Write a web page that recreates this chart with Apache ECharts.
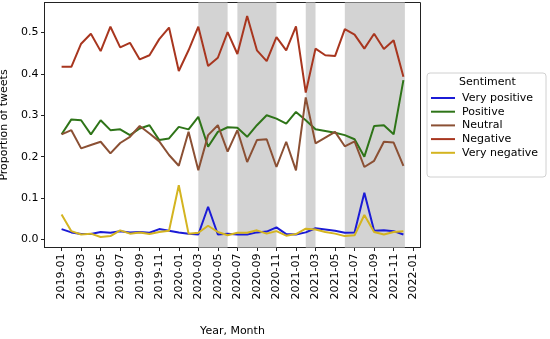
<!DOCTYPE html>
<html><head><meta charset="utf-8">
<script src="https://cdn.jsdelivr.net/npm/echarts@6/dist/echarts.min.js"></script>
<style>html,body{margin:0;padding:0;background:#fff}#c{width:550px;height:339px}</style>
</head><body><div id="c"></div>
<script>
const tickLabels = ['2019-01','2019-03','2019-05','2019-07','2019-09','2019-11','2020-01','2020-03','2020-05','2020-07','2020-09','2020-11','2021-01','2021-03','2021-05','2021-07','2021-09','2021-11','2022-01'];
const yTicks = [0, 0.1, 0.2, 0.3, 0.4, 0.5];
const seriesNames = ['Very positive','Positive','Neutral','Negative','Very negative'];
const veryPositive = [0.025,0.017,0.013,0.013,0.018,0.016,0.020,0.017,0.018,0.016,0.025,0.021,0.017,0.014,0.012,0.079,0.012,0.014,0.012,0.012,0.017,0.019,0.029,0.013,0.012,0.017,0.027,0.024,0.021,0.016,0.017,0.113,0.021,0.022,0.020,0.012];
const positive = [0.254,0.290,0.288,0.254,0.288,0.264,0.266,0.252,0.268,0.276,0.240,0.244,0.272,0.266,0.296,0.224,0.260,0.271,0.270,0.248,0.276,0.300,0.292,0.280,0.308,0.288,0.266,0.262,0.258,0.252,0.242,0.200,0.274,0.276,0.254,0.385];
const neutral = [0.254,0.264,0.220,0.228,0.236,0.208,0.233,0.248,0.274,0.256,0.237,0.204,0.178,0.260,0.167,0.252,0.276,0.212,0.264,0.187,0.240,0.242,0.175,0.236,0.167,0.343,0.232,0.246,0.260,0.225,0.237,0.175,0.190,0.236,0.234,0.178];
const negative = [0.417,0.417,0.473,0.497,0.455,0.514,0.464,0.475,0.435,0.445,0.484,0.512,0.407,0.457,0.514,0.419,0.439,0.501,0.448,0.540,0.457,0.431,0.489,0.457,0.515,0.355,0.461,0.445,0.443,0.508,0.495,0.461,0.497,0.460,0.481,0.393];
const veryNegative = [0.060,0.020,0.012,0.014,0.006,0.008,0.022,0.014,0.017,0.013,0.018,0.021,0.131,0.014,0.016,0.033,0.018,0.010,0.016,0.016,0.022,0.014,0.020,0.009,0.013,0.026,0.024,0.018,0.014,0.008,0.010,0.059,0.018,0.012,0.018,0.020];
// shaded periods as month indices (0 = 2019-01)
const shadedPeriods = [[14, 17], [18, 22], [25, 26], [29, 35.15]];

const colors = ['#1b1bd6', '#2e7418', '#8b5034', '#a8361f', '#d4b420'];
const allSeries = [veryPositive, positive, neutral, negative, veryNegative];
const FONT = 'DejaVu Sans';

const chart = echarts.init(document.getElementById('c'), null, {renderer: 'canvas'});
const series = [{
  type: 'line', name: '_shade', data: [], silent: true,
  markArea: {silent: true, itemStyle: {color: '#d3d3d3'},
    data: shadedPeriods.map(p => [{xAxis: p[0]}, {xAxis: p[1]}])}
}];
allSeries.forEach((arr, k) => {
  series.push({
    type: 'line', name: seriesNames[k], data: arr.map((v, i) => [i, v]),
    symbol: 'none', lineStyle: {width: 2, color: colors[k]}, itemStyle: {color: colors[k]},
    z: 3
  });
});

chart.setOption({
  animation: false,
  textStyle: {fontFamily: FONT},
  grid: {left: 44.5, right: 129.5, top: 2.5, bottom: 91.5, show: true, borderColor: '#222', borderWidth: 1,
    containLabel: false, outerBoundsMode: 'none'},
  xAxis: {
    type: 'value', min: -1.75, max: 36.75,
    name: 'Year, Month', nameLocation: 'middle', nameGap: 78,
    nameTextStyle: {color: '#000', fontSize: 11, fontFamily: FONT},
    axisLine: {show: true, onZero: false, lineStyle: {color: '#222'}},
    axisTick: {show: true, length: 3.5, lineStyle: {color: '#222'}, customValues: tickLabels.map((_, j) => j * 2)},
    axisLabel: {rotate: 90, color: '#000', fontSize: 11, fontFamily: FONT, margin: 6,
      customValues: tickLabels.map((_, j) => j * 2),
      formatter: v => tickLabels[Math.round(v / 2)] || ''},
    splitLine: {show: false}
  },
  yAxis: {
    type: 'value', min: -0.0195, max: 0.5725,
    name: 'Proportion of tweets', nameLocation: 'middle', nameGap: 31, nameRotate: 90,
    nameTextStyle: {color: '#000', fontSize: 11, fontFamily: FONT},
    axisLine: {show: true, onZero: false, lineStyle: {color: '#222'}},
    axisTick: {show: true, length: 3.5, lineStyle: {color: '#222'}, customValues: yTicks},
    axisLabel: {color: '#000', fontSize: 11, fontFamily: FONT, margin: 6, customValues: yTicks,
      formatter: v => v.toFixed(1)},
    splitLine: {show: false}
  },
  legend: {
    data: seriesNames, orient: 'vertical', left: 431, top: 92.5,
    itemWidth: 24, itemHeight: 14, itemGap: 2.7,
    icon: 'path://M0,0 L24,0 L24,2 L0,2 Z',
    textStyle: {color: '#000', fontSize: 11, fontFamily: FONT, padding: [0, 0, 0, 2]},
    padding: 0
  },
  graphic: [
    {type: 'rect', left: 426.5, top: 72.5, shape: {width: 119, height: 104, r: 3},
      style: {fill: '#fff', stroke: '#d0d0d0', lineWidth: 1}, z: 0},
    {type: 'text', left: 459, top: 77, style: {text: 'Sentiment', fontSize: 11, fontFamily: FONT, fill: '#000'}, z: 1}
  ],
  series: series
});
</script></body></html>
